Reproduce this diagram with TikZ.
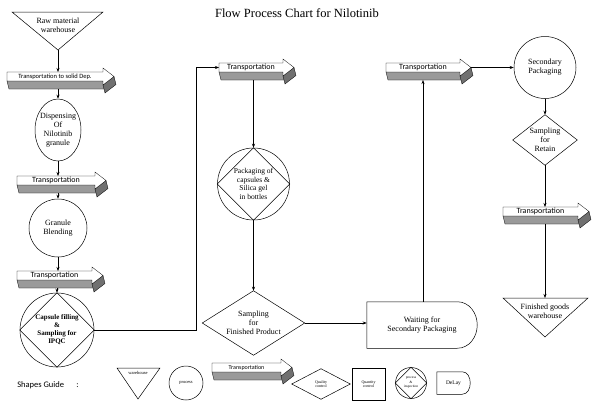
\documentclass[tikz,border=0pt]{standalone}
\usepackage{fontspec}
\setmainfont{Liberation Serif}
\newfontfamily\guidefont{Carlito}
\usetikzlibrary{shapes.geometric,arrows.meta}
\definecolor{stripgray}{HTML}{9A9A9A}
\definecolor{headgray}{HTML}{707070}
\newcommand\transp[6]{%
  \filldraw[fill=stripgray,line width=0.3pt] (#2,#4+9) -- (#2+2,#4+17) -- (#3+2,#4+17) -- (#3,#4+9) -- cycle;
  \filldraw[fill=headgray,line width=0.3pt] (#3+11,#4+4.5) -- (#3+13,#4+12.5) -- (#3+2,#4+21) -- (#3,#4+13) -- cycle;
  \filldraw[fill=white,line width=0.3pt] (#2,#4) -- (#3,#4) -- (#3,#4-4) -- (#3+11,#4+4.5) -- (#3,#4+13) -- (#3,#4+9) -- (#2,#4+9) -- cycle;
  \node[font=#5, inner sep=0] (#1) at ({(#2+#3)/2},#4+4.5) {#6};
  \coordinate (#1-n) at ({(#2+#3)/2},#4);
  \coordinate (#1-s) at ({(#2+#3)/2},#4+17);
  \coordinate (#1-w) at (#2,#4+4.5);
  \coordinate (#1-e) at (#3+11,#4+4.5);
}
\newcommand\dia[1]{\draw (#1.north) -- (#1.east) -- (#1.south) -- (#1.west) -- cycle;}
\begin{document}
\begin{tikzpicture}[x=1pt,y=-1pt,line width=0.5pt,>={Stealth[length=4pt,width=3pt]},
  txt/.style={font=\fontsize{8}{9}\selectfont,align=center,inner sep=0},
  proc/.style={draw,circle,inner sep=0},
  box/.style={rectangle,inner sep=0},
  conn/.style={->}]
\useasboundingbox (0,0) rectangle (592,402);

\node[font=\fontsize{12.5}{14}\selectfont] (title) at (297,13) {Flow Process Chart for Nilotinib};

% ---- left column ----
\draw (12,12) -- (103,12) -- (58,50) -- cycle;
\coordinate (raw-apex) at (58,50);
\node[txt] (raw) at (58,25) {Raw material\\warehouse};

\transp{t1}{7}{103}{72}{\guidefont\fontsize{6.5}{7}\selectfont}{Transportation to solid Dep.}

\node[draw,ellipse,minimum width=46,minimum height=62,inner sep=0] (disp) at (58,130) {};
\node[txt] at (disp) {Dispensing\\Of\\Nilotinib\\granule};

\transp{t2}{17}{95}{176}{\guidefont\fontsize{8}{9}\selectfont}{Transportation}

\node[proc,minimum size=58] (gran) at (58,228) {};
\node[txt] at (gran) {Granule\\Blending};

\transp{t3}{17}{92}{271}{\guidefont\fontsize{8}{9}\selectfont}{Transportation}

\node[proc,minimum size=74] (cap) at (57,330) {};
\dia{cap}
\node[txt,font=\bfseries\fontsize{7}{8}\selectfont] at (cap) {Capsule filling\\\&\\Sampling for\\IPQC};

\draw[conn] (raw-apex) -- (raw-apex |- t1-n);
\draw[conn] (disp.north |- t1-s) -- (disp.north);
\draw[conn] (disp.south) -- (disp.south |- t2-n);
\draw[conn] (gran.north |- t2-s) -- (gran.north);
\draw[conn] (gran.south) -- (gran.south |- t3-n);
\draw[conn] (cap.north |- t3-s) -- (cap.north);

% ---- middle ----
\transp{t4}{219}{283}{63}{\guidefont\fontsize{8}{9}\selectfont}{Transportation}
\coordinate (bend) at (196,0);
\draw[conn] (cap.east) -- (cap.east -| bend) -- (bend |- t4-w) -- (t4-w);

\node[proc,minimum size=72] (pack) at (253.5,184) {};
\dia{pack}
\node[txt,font=\fontsize{7.5}{8.5}\selectfont] at (pack) {Packaging of\\capsules \&\\Silica gel\\in bottles};
\draw[conn] (pack.north |- t4-s) -- (pack.north);

\node[box,minimum width=102,minimum height=64] (sfp) at (253.5,323) {};
\dia{sfp}
\node[txt] at (sfp) {Sampling\\for\\Finished Product};
\draw[conn] (pack.south) -- (sfp.north);

\node[box,minimum width=110,minimum height=46] (wait) at (422,325) {};
\draw (wait.north west) -- ([xshift=-20]wait.north east) to[out=0,in=90] (wait.east) to[out=-90,in=0] ([xshift=-20]wait.south east) -- (wait.south west) -- cycle;
\node[txt] at (wait) {Waiting for\\Secondary Packaging};
\draw[conn] (sfp.east) -- (sfp.east -| wait.west);

% ---- right ----
\transp{t5}{386}{460}{63}{\guidefont\fontsize{8}{9}\selectfont}{Transportation}
\draw[conn] (t5-s |- wait.north) -- (t5-s);

\node[proc,minimum size=62] (sec) at (545,67.5) {};
\node[txt] at (sec) {Secondary\\Packaging};
\draw[conn] (t5-e) -- (sec.west);

\node[box,minimum width=64,minimum height=50] (sfr) at (545,140) {};
\dia{sfr}
\node[txt] at (sfr) {Sampling\\for\\Retain};
\draw[conn] (sec.south) -- (sfr.north);

\transp{t6}{503}{578}{207}{\guidefont\fontsize{8}{9}\selectfont}{Transportation}
\draw[conn] (sfr.south) -- (sfr.south |- t6-n);

\draw (503,298) -- (588,298) -- (545,337) -- cycle;
\coordinate (fgw-top) at (545,298);
\node[txt] (fgw) at (545,311) {Finished goods\\warehouse};
\draw[conn] (fgw-top |- t6-s) -- (fgw-top);

% ---- shapes guide ----
\node[font=\guidefont\fontsize{8.5}{10}\selectfont,anchor=west,inner sep=0] (guide) at (17,385) {Shapes Guide\quad\ \ :};

\draw (117,368) -- (160,368) -- (138,399) -- cycle;
\node[txt,font=\fontsize{4.5}{5}\selectfont] (gw) at (138,373) {warehouse};

\node[proc,minimum size=34] (gp) at (186,383) {};
\node[txt,font=\fontsize{4.5}{5}\selectfont] at (gp) {process};

\transp{gt}{212}{281}{363}{\guidefont\fontsize{6}{7}\selectfont}{Transportation}

\node[box,minimum width=58,minimum height=30] (gq) at (321,384) {};
\dia{gq}
\node[txt,font=\fontsize{4}{4.5}\selectfont] at (gq) {Quality\\control};

\node[draw,box,minimum width=33,minimum height=32] (gs) at (368.5,384) {};
\node[txt,font=\fontsize{4}{4.5}\selectfont] at (gs) {Quantity\\control};

\node[proc,minimum size=31] (gpi) at (411,383) {};
\dia{gpi}
\node[txt,font=\fontsize{3.5}{4.5}\selectfont] at (gpi) {process\\\&\\inspection};

\node[box,minimum width=33,minimum height=22] (gd) at (453.5,383) {};
\draw (gd.north west) -- ([xshift=-8]gd.north east) to[out=0,in=90] (gd.east) to[out=-90,in=0] ([xshift=-8]gd.south east) -- (gd.south west) -- cycle;
\node[txt,font=\fontsize{5.5}{6}\selectfont] at (gd) {DeLay};
\end{tikzpicture}
\end{document}
